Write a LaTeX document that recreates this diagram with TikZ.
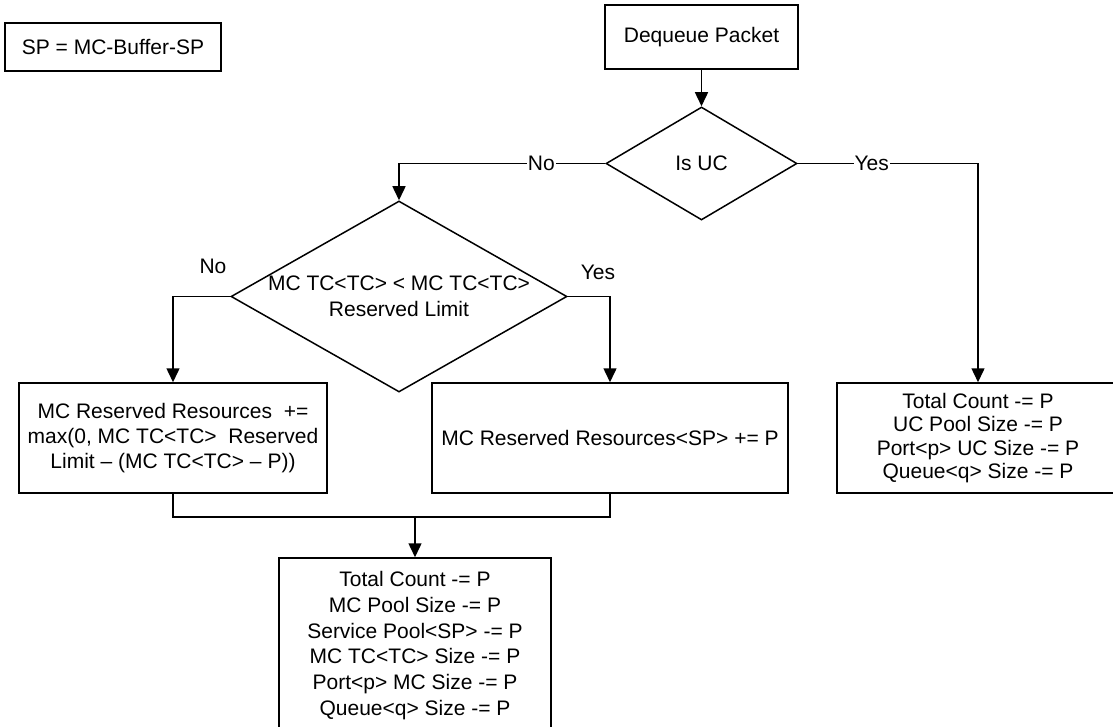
\documentclass[tikz,border=0pt]{standalone}
\usepackage{fontspec}
\setmainfont{Liberation Sans}
\usetikzlibrary{shapes.geometric,arrows.meta}

\tikzset{
  base/.style={line width=1.5pt},
  box/.style={base, draw, rectangle, align=center, inner sep=0pt,
    font=\fontsize{21}{25.8}\selectfont},
  dia/.style={base, draw, diamond, inner sep=0pt},
  txt/.style={align=center, inner sep=0pt, font=\fontsize{21}{25.8}\selectfont},
  lab/.style={fill=white, inner sep=1pt, font=\fontsize{21}{25}\selectfont},
  flow/.style={base, -{Triangle[length=14pt,width=13pt]}},
  link/.style={base}
}

\begin{document}
\begin{tikzpicture}[x=1pt,y=-1pt]
  \clip (0,0) rectangle (1113,727);

  % legend
  \node[box, minimum width=216pt, minimum height=48pt] (sp) at (113,47) {SP = MC-Buffer-SP};

  % start and first decision
  \node[box, minimum width=193pt, minimum height=64pt] (deq) at (701.5,37) {Dequeue Packet};
  \node[dia, minimum width=191pt, minimum height=113pt] (uc) at (701.5,163.5) {};
  \node[txt] (uct) at (uc) {Is UC};

  % multicast decision
  \node[dia, minimum width=336pt, minimum height=191pt] (d2) at (399,296.5) {};
  \node[txt] (d2t) at (399,296) {MC TC<TC> < MC TC<TC>\\Reserved Limit};
  \node[txt] (no2) at (213,266) {No};
  \node[txt] (yes2) at (598,272) {Yes};

  % actions
  \node[box, minimum width=308pt, minimum height=110pt, font=\fontsize{21}{25}\selectfont] (lbox) at (173,438)
    {MC Reserved Resources \ +=\\max(0, MC TC<TC> \ Reserved\\Limit – (MC TC<TC> – P))};
  \node[box, minimum width=356pt, minimum height=110pt] (mbox) at (610,438)
    {MC Reserved Resources<SP> += P};
  \node[box, minimum width=282pt, minimum height=110pt, font=\fontsize{21}{23.4}\selectfont] (rbox) at (978,438)
    {Total Count -= P\\UC Pool Size -= P\\Port<p> UC Size -= P\\Queue<q> Size -= P};
  \node[box, minimum width=272pt, minimum height=175pt] (bbox) at (415,645.5)
    {Total Count -= P\\MC Pool Size -= P\\Service Pool<SP> -= P\\MC TC<TC> Size -= P\\Port<p> MC Size -= P\\Queue<q> Size -= P};

  % connectors
  \draw[flow] (deq.south) -- (uc.north);
  \draw[flow] (uc.west) -- node[pos=0.31, lab] {No} (d2.north |- uc.west) -- (d2.north);
  \draw[flow] (uc.east) -- node[pos=0.41, lab] {Yes} (rbox.north |- uc.east) -- (rbox.north);
  \draw[flow] (d2.west) -- (lbox.north |- d2.west) -- (lbox.north);
  \draw[flow] (d2.east) -- (mbox.north |- d2.east) -- (mbox.north);

  \coordinate (join) at (415,517);
  \draw[link] (lbox.south) -- (lbox.south |- join) -- (mbox.south |- join) -- (mbox.south);
  \draw[flow] (join) -- (bbox.north);
\end{tikzpicture}
\end{document}
